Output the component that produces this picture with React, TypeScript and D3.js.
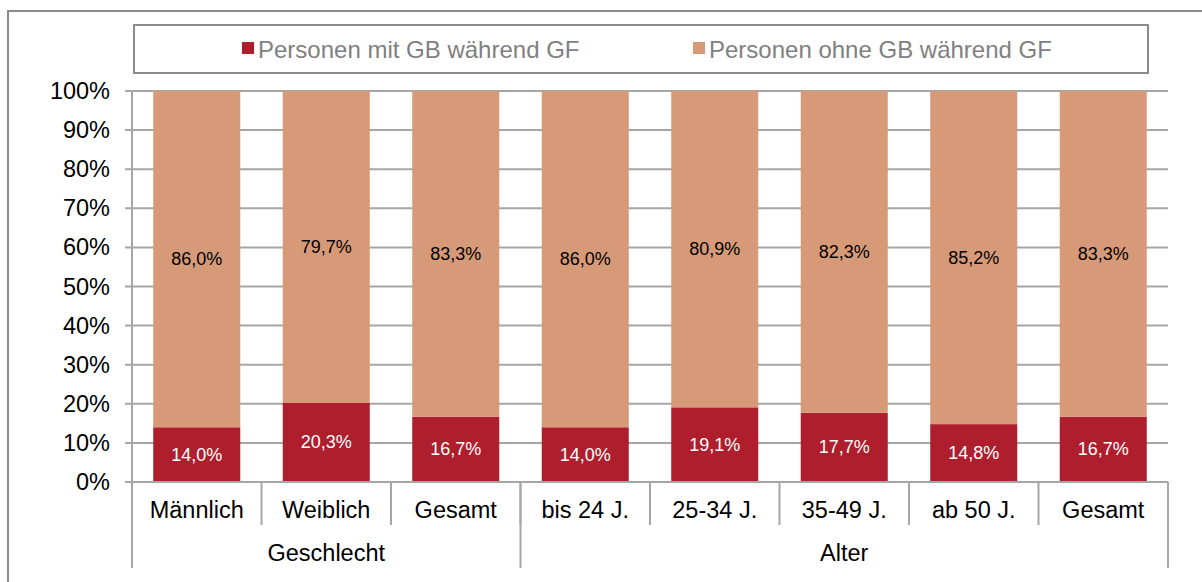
import * as d3 from 'd3';
import React from 'react';

const categories = ['Männlich', 'Weiblich', 'Gesamt', 'bis 24 J.', '25-34 J.', '35-49 J.', 'ab 50 J.', 'Gesamt'];
const groups = [
  { name: 'Geschlecht', from: 0, to: 2 },
  { name: 'Alter', from: 3, to: 7 },
];
const mitGB = [14.0, 20.3, 16.7, 14.0, 19.1, 17.7, 14.8, 16.7];
const ohneGB = [86.0, 79.7, 83.3, 86.0, 80.9, 82.3, 85.2, 83.3];
const seriesNames = ['Personen mit GB während GF', 'Personen ohne GB während GF'];
const yTicks = [0, 10, 20, 30, 40, 50, 60, 70, 80, 90, 100];

const W = 1202;
const H = 582;
const margin = { left: 132, right: 1168, top: 91, bottom: 482 };
const colors = ['#AF1E2D', '#D79A78'];
const labelColors = ['#ffffff', '#000000'];
const gridColor = '#a6a6a6';
const font = '"Liberation Sans", Arial, sans-serif';

const fmt = (v: number) => v.toFixed(1).replace('.', ',') + '%';

const App: React.FC = () => {
  const rows = categories.map((c, i) => ({ idx: i, mit: mitGB[i], ohne: ohneGB[i] }));
  const stack = d3.stack<any>().keys(['mit', 'ohne'])(rows);

  const x = d3
    .scaleBand<number>()
    .domain(categories.map((_, i) => i))
    .range([margin.left, margin.right])
    .paddingInner(0.328)
    .paddingOuter(0.164);

  const y = d3.scaleLinear().domain([0, 100]).range([margin.bottom, margin.top]);

  const step = x.step();
  const catEdge = (i: number) => margin.left + i * step;

  return (
    <svg width={W} height={H} style={{ position: 'absolute', left: 0, top: 0, fontFamily: font }}>
      <rect x={0} y={0} width={W} height={H} fill="#fff" />
      {/* outer frame */}
      <rect x={8} y={11} width={W + 20} height={H + 20} fill="none" stroke="#8c8c8c" strokeWidth={2} />

      {/* legend */}
      <rect x={134} y={25} width={1014} height={48} fill="#fff" stroke="#8c8c8c" strokeWidth={2} />
      {seriesNames.map((s, i) => {
        const lx = i === 0 ? 242 : 693;
        return (
          <g key={s}>
            <rect x={lx} y={42} width={12} height={12} fill={colors[i]} />
            <text x={lx + 16} y={49} dominantBaseline="central" fontSize={24} fill="#808080">
              {s}
            </text>
          </g>
        );
      })}

      {/* gridlines */}
      {yTicks.map((t) => (
        <line key={t} x1={margin.left - 7} x2={margin.right} y1={y(t)} y2={y(t)} stroke={gridColor} strokeWidth={2} />
      ))}

      {/* bars */}
      {stack.map((layer, si) =>
        layer.map((d, i) => (
          <rect
            key={`${si}-${i}`}
            x={x(i)}
            y={y(d[1])}
            width={x.bandwidth()}
            height={y(d[0]) - y(d[1])}
            fill={colors[si]}
          />
        ))
      )}

      {/* value labels */}
      {stack.map((layer, si) =>
        layer.map((d, i) => (
          <text
            key={`l${si}-${i}`}
            x={x(i)! + x.bandwidth() / 2}
            y={y((d[0] + d[1]) / 2)}
            textAnchor="middle"
            dominantBaseline="central"
            fontSize={18}
            fill={labelColors[si]}
          >
            {fmt(d[1] - d[0])}
          </text>
        ))
      )}

      {/* y axis */}
      <line x1={margin.left} x2={margin.left} y1={margin.top} y2={568} stroke={gridColor} strokeWidth={2} />
      {yTicks.map((t) => (
        <text key={`t${t}`} x={110} y={y(t)} textAnchor="end" dominantBaseline="central" fontSize={23.5} fill="#000">
          {t}%
        </text>
      ))}

      {/* category axis */}
      <line x1={margin.left} x2={margin.right} y1={margin.bottom} y2={margin.bottom} stroke={gridColor} strokeWidth={2} />
      {categories.map((_, i) => (
        <line key={`c${i}`} x1={catEdge(i + 1)} x2={catEdge(i + 1)} y1={margin.bottom} y2={525} stroke={gridColor} strokeWidth={2} />
      ))}
      {categories.map((c, i) => (
        <text key={`cl${i}`} x={x(i)! + x.bandwidth() / 2} y={510} textAnchor="middle" dominantBaseline="central" fontSize={23.5} fill="#000">
          {c}
        </text>
      ))}
      {groups.map((g) => (
        <g key={g.name}>
          <line x1={catEdge(g.to + 1)} x2={catEdge(g.to + 1)} y1={margin.bottom} y2={568} stroke={gridColor} strokeWidth={2} />
          <text
            x={(catEdge(g.from) + catEdge(g.to + 1)) / 2}
            y={553}
            textAnchor="middle"
            dominantBaseline="central"
            fontSize={23.5}
            fill="#000"
          >
            {g.name}
          </text>
        </g>
      ))}
    </svg>
  );
};

export default App;
